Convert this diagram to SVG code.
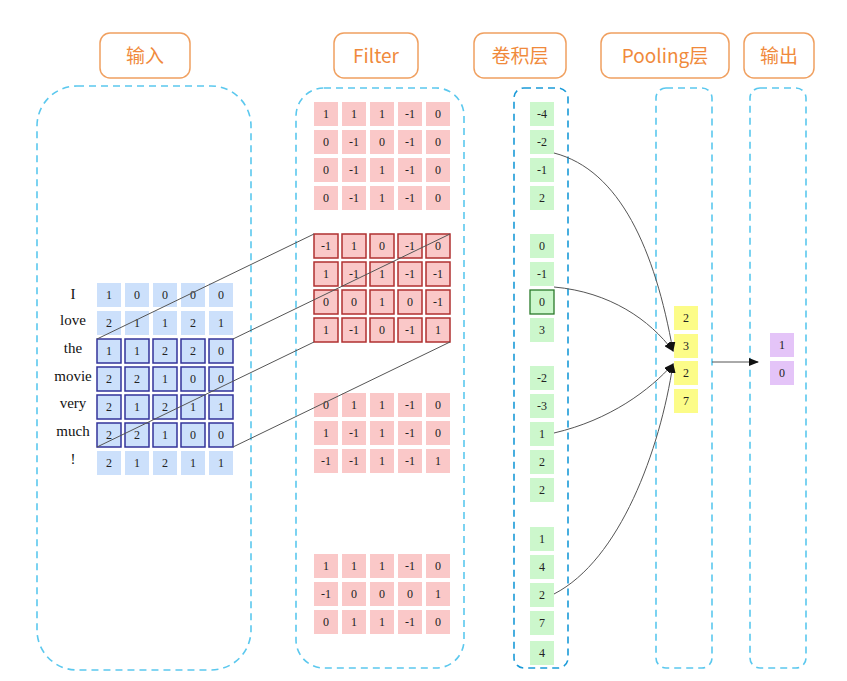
<svg xmlns="http://www.w3.org/2000/svg" width="847" height="681" viewBox="0 0 847 681">
<style>
.t{fill:#fff;stroke:#f0a060;stroke-width:1.5}
.tt{font-family:"Noto Sans CJK SC","Noto Sans",sans-serif;font-size:19px;fill:#f08a3c;text-anchor:middle}
.p{fill:none;stroke:#5bc8ee;stroke-width:1.6;stroke-dasharray:7,5}
.n{font-family:"Liberation Serif",serif;font-size:12px;fill:#222;text-anchor:middle}
.w{font-family:"Liberation Serif",serif;font-size:15px;fill:#111;text-anchor:middle}
.b{fill:#cce0fb}.bb{fill:#cce0fb;stroke:#33339a;stroke-width:1.5}
.r{fill:#fac8c8}.rb{fill:#fac8c8;stroke:#b03030;stroke-width:1.5}
.g{fill:#ccf7cc}.gb{fill:#ccf7cc;stroke:#2a7a2a;stroke-width:1.3}
.y{fill:#fcfc88}.v{fill:#e4c4f8}
.c{fill:none;stroke:#555;stroke-width:1}
</style>
<defs><marker id="a" markerWidth="10" markerHeight="8" refX="9" refY="4" orient="auto" markerUnits="userSpaceOnUse"><path d="M0,0L10,4L0,8z" fill="#111"/></marker></defs>
<rect width="847" height="681" fill="#fff"/>
<g id="titles">
<rect class="t" x="100" y="33" width="90" height="45" rx="10"/><text class="tt" x="145" y="63">输入</text>
<rect class="t" x="334" y="33" width="84" height="45" rx="10"/><text class="tt" x="376" y="63">Filter</text>
<rect class="t" x="474" y="33" width="92" height="45" rx="10"/><text class="tt" x="520" y="63">卷积层</text>
<rect class="t" x="601" y="33" width="128" height="45" rx="10"/><text class="tt" x="665" y="63">Pooling层</text>
<rect class="t" x="744" y="33" width="70" height="45" rx="10"/><text class="tt" x="779" y="63">输出</text>
</g>
<g id="panels">
<rect class="p" x="37" y="86" width="214" height="584" rx="40"/>
<rect class="p" x="296" y="88" width="168" height="580" rx="28"/>
<rect class="p" x="514" y="88" width="54" height="580" rx="10" style="stroke:#1a9ad8"/>
<rect class="p" x="656" y="88" width="56" height="580" rx="10"/>
<rect class="p" x="750" y="88" width="56" height="580" rx="10"/>
</g>
<g id="input">
<g class="w"><text x="73" y="299">I</text><text x="73" y="325">love</text><text x="73" y="353">the</text><text x="73" y="381">movie</text><text x="73" y="408">very</text><text x="73" y="436">much</text><text x="73" y="464">!</text></g>
<g class="b"><rect x="97" y="283" width="24" height="24"/><rect x="125" y="283" width="24" height="24"/><rect x="153" y="283" width="24" height="24"/><rect x="181" y="283" width="24" height="24"/><rect x="209" y="283" width="24" height="24"/>
<rect x="97" y="311" width="24" height="24"/><rect x="125" y="311" width="24" height="24"/><rect x="153" y="311" width="24" height="24"/><rect x="181" y="311" width="24" height="24"/><rect x="209" y="311" width="24" height="24"/>
<rect x="97" y="451" width="24" height="24"/><rect x="125" y="451" width="24" height="24"/><rect x="153" y="451" width="24" height="24"/><rect x="181" y="451" width="24" height="24"/><rect x="209" y="451" width="24" height="24"/></g>
<g class="bb"><rect x="97" y="339" width="24" height="24"/><rect x="125" y="339" width="24" height="24"/><rect x="153" y="339" width="24" height="24"/><rect x="181" y="339" width="24" height="24"/><rect x="209" y="339" width="24" height="24"/>
<rect x="97" y="367" width="24" height="24"/><rect x="125" y="367" width="24" height="24"/><rect x="153" y="367" width="24" height="24"/><rect x="181" y="367" width="24" height="24"/><rect x="209" y="367" width="24" height="24"/>
<rect x="97" y="395" width="24" height="24"/><rect x="125" y="395" width="24" height="24"/><rect x="153" y="395" width="24" height="24"/><rect x="181" y="395" width="24" height="24"/><rect x="209" y="395" width="24" height="24"/>
<rect x="97" y="423" width="24" height="24"/><rect x="125" y="423" width="24" height="24"/><rect x="153" y="423" width="24" height="24"/><rect x="181" y="423" width="24" height="24"/><rect x="209" y="423" width="24" height="24"/></g>
<g class="n">
<text x="109" y="299">1</text><text x="137" y="299">0</text><text x="165" y="299">0</text><text x="193" y="299">0</text><text x="221" y="299">0</text>
<text x="109" y="327">2</text><text x="137" y="327">1</text><text x="165" y="327">1</text><text x="193" y="327">2</text><text x="221" y="327">1</text>
<text x="109" y="355">1</text><text x="137" y="355">1</text><text x="165" y="355">2</text><text x="193" y="355">2</text><text x="221" y="355">0</text>
<text x="109" y="383">2</text><text x="137" y="383">2</text><text x="165" y="383">1</text><text x="193" y="383">0</text><text x="221" y="383">0</text>
<text x="109" y="411">2</text><text x="137" y="411">1</text><text x="165" y="411">2</text><text x="193" y="411">1</text><text x="221" y="411">1</text>
<text x="109" y="439">2</text><text x="137" y="439">2</text><text x="165" y="439">1</text><text x="193" y="439">0</text><text x="221" y="439">0</text>
<text x="109" y="467">2</text><text x="137" y="467">1</text><text x="165" y="467">2</text><text x="193" y="467">1</text><text x="221" y="467">1</text>
</g>
</g>
<g id="filter">
<g class="r">
<rect x="314" y="102" width="24" height="24"/><rect x="342" y="102" width="24" height="24"/><rect x="370" y="102" width="24" height="24"/><rect x="398" y="102" width="24" height="24"/><rect x="426" y="102" width="24" height="24"/>
<rect x="314" y="130" width="24" height="24"/><rect x="342" y="130" width="24" height="24"/><rect x="370" y="130" width="24" height="24"/><rect x="398" y="130" width="24" height="24"/><rect x="426" y="130" width="24" height="24"/>
<rect x="314" y="158" width="24" height="24"/><rect x="342" y="158" width="24" height="24"/><rect x="370" y="158" width="24" height="24"/><rect x="398" y="158" width="24" height="24"/><rect x="426" y="158" width="24" height="24"/>
<rect x="314" y="186" width="24" height="24"/><rect x="342" y="186" width="24" height="24"/><rect x="370" y="186" width="24" height="24"/><rect x="398" y="186" width="24" height="24"/><rect x="426" y="186" width="24" height="24"/>
<rect x="314" y="393" width="24" height="24"/><rect x="342" y="393" width="24" height="24"/><rect x="370" y="393" width="24" height="24"/><rect x="398" y="393" width="24" height="24"/><rect x="426" y="393" width="24" height="24"/>
<rect x="314" y="421" width="24" height="24"/><rect x="342" y="421" width="24" height="24"/><rect x="370" y="421" width="24" height="24"/><rect x="398" y="421" width="24" height="24"/><rect x="426" y="421" width="24" height="24"/>
<rect x="314" y="449" width="24" height="24"/><rect x="342" y="449" width="24" height="24"/><rect x="370" y="449" width="24" height="24"/><rect x="398" y="449" width="24" height="24"/><rect x="426" y="449" width="24" height="24"/>
<rect x="314" y="554" width="24" height="24"/><rect x="342" y="554" width="24" height="24"/><rect x="370" y="554" width="24" height="24"/><rect x="398" y="554" width="24" height="24"/><rect x="426" y="554" width="24" height="24"/>
<rect x="314" y="582" width="24" height="24"/><rect x="342" y="582" width="24" height="24"/><rect x="370" y="582" width="24" height="24"/><rect x="398" y="582" width="24" height="24"/><rect x="426" y="582" width="24" height="24"/>
<rect x="314" y="610" width="24" height="24"/><rect x="342" y="610" width="24" height="24"/><rect x="370" y="610" width="24" height="24"/><rect x="398" y="610" width="24" height="24"/><rect x="426" y="610" width="24" height="24"/>
</g>
<g class="rb">
<rect x="314" y="234" width="24" height="24"/><rect x="342" y="234" width="24" height="24"/><rect x="370" y="234" width="24" height="24"/><rect x="398" y="234" width="24" height="24"/><rect x="426" y="234" width="24" height="24"/>
<rect x="314" y="262" width="24" height="24"/><rect x="342" y="262" width="24" height="24"/><rect x="370" y="262" width="24" height="24"/><rect x="398" y="262" width="24" height="24"/><rect x="426" y="262" width="24" height="24"/>
<rect x="314" y="290" width="24" height="24"/><rect x="342" y="290" width="24" height="24"/><rect x="370" y="290" width="24" height="24"/><rect x="398" y="290" width="24" height="24"/><rect x="426" y="290" width="24" height="24"/>
<rect x="314" y="318" width="24" height="24"/><rect x="342" y="318" width="24" height="24"/><rect x="370" y="318" width="24" height="24"/><rect x="398" y="318" width="24" height="24"/><rect x="426" y="318" width="24" height="24"/>
</g>
<g class="n">
<text x="326" y="118">1</text><text x="354" y="118">1</text><text x="382" y="118">1</text><text x="410" y="118">-1</text><text x="438" y="118">0</text>
<text x="326" y="146">0</text><text x="354" y="146">-1</text><text x="382" y="146">0</text><text x="410" y="146">-1</text><text x="438" y="146">0</text>
<text x="326" y="174">0</text><text x="354" y="174">-1</text><text x="382" y="174">1</text><text x="410" y="174">-1</text><text x="438" y="174">0</text>
<text x="326" y="202">0</text><text x="354" y="202">-1</text><text x="382" y="202">1</text><text x="410" y="202">-1</text><text x="438" y="202">0</text>
<text x="326" y="250">-1</text><text x="354" y="250">1</text><text x="382" y="250">0</text><text x="410" y="250">-1</text><text x="438" y="250">0</text>
<text x="326" y="278">1</text><text x="354" y="278">-1</text><text x="382" y="278">1</text><text x="410" y="278">-1</text><text x="438" y="278">-1</text>
<text x="326" y="306">0</text><text x="354" y="306">0</text><text x="382" y="306">1</text><text x="410" y="306">0</text><text x="438" y="306">-1</text>
<text x="326" y="334">1</text><text x="354" y="334">-1</text><text x="382" y="334">0</text><text x="410" y="334">-1</text><text x="438" y="334">1</text>
<text x="326" y="409">0</text><text x="354" y="409">1</text><text x="382" y="409">1</text><text x="410" y="409">-1</text><text x="438" y="409">0</text>
<text x="326" y="437">1</text><text x="354" y="437">-1</text><text x="382" y="437">1</text><text x="410" y="437">-1</text><text x="438" y="437">0</text>
<text x="326" y="465">-1</text><text x="354" y="465">-1</text><text x="382" y="465">1</text><text x="410" y="465">-1</text><text x="438" y="465">1</text>
<text x="326" y="570">1</text><text x="354" y="570">1</text><text x="382" y="570">1</text><text x="410" y="570">-1</text><text x="438" y="570">0</text>
<text x="326" y="598">-1</text><text x="354" y="598">0</text><text x="382" y="598">0</text><text x="410" y="598">0</text><text x="438" y="598">1</text>
<text x="326" y="626">0</text><text x="354" y="626">1</text><text x="382" y="626">1</text><text x="410" y="626">-1</text><text x="438" y="626">0</text>
</g>
</g>
<g id="conv">
<g class="g">
<rect x="530" y="102" width="24" height="24"/><rect x="530" y="130" width="24" height="24"/><rect x="530" y="158" width="24" height="24"/><rect x="530" y="186" width="24" height="24"/>
<rect x="530" y="234" width="24" height="24"/><rect x="530" y="262" width="24" height="24"/><rect x="530" y="318" width="24" height="24"/>
<rect x="530" y="366" width="24" height="24"/><rect x="530" y="394" width="24" height="24"/><rect x="530" y="422" width="24" height="24"/><rect x="530" y="450" width="24" height="24"/><rect x="530" y="478" width="24" height="24"/>
<rect x="530" y="527" width="24" height="24"/><rect x="530" y="555" width="24" height="24"/><rect x="530" y="583" width="24" height="24"/><rect x="530" y="611" width="24" height="24"/><rect x="530" y="641" width="24" height="24"/>
</g>
<rect class="gb" x="530" y="290" width="24" height="24"/>
<g class="n">
<text x="542" y="118">-4</text><text x="542" y="146">-2</text><text x="542" y="174">-1</text><text x="542" y="202">2</text>
<text x="542" y="250">0</text><text x="542" y="278">-1</text><text x="542" y="306">0</text><text x="542" y="334">3</text>
<text x="542" y="382">-2</text><text x="542" y="410">-3</text><text x="542" y="438">1</text><text x="542" y="466">2</text><text x="542" y="494">2</text>
<text x="542" y="543">1</text><text x="542" y="571">4</text><text x="542" y="599">2</text><text x="542" y="627">7</text><text x="542" y="657">4</text>
</g>
</g>
<g id="pooling">
<g class="y"><rect x="674" y="306" width="24" height="24"/><rect x="674" y="334" width="24" height="24"/><rect x="674" y="361" width="24" height="24"/><rect x="674" y="389" width="24" height="24"/></g>
<g class="n"><text x="686" y="322">2</text><text x="686" y="350">3</text><text x="686" y="377">2</text><text x="686" y="405">7</text></g>
</g>
<g id="output">
<g class="v"><rect x="770" y="333" width="24" height="24"/><rect x="770" y="361" width="24" height="24"/></g>
<g class="n"><text x="782" y="349">1</text><text x="782" y="377">0</text></g>
</g>
<g id="connectors">
<line class="c" x1="97" y1="339" x2="314" y2="234"/>
<line class="c" x1="233" y1="339" x2="450" y2="234"/>
<line class="c" x1="97" y1="447" x2="314" y2="342"/>
<line class="c" x1="233" y1="447" x2="450" y2="342"/>
<path class="c" d="M554,153 C620,170 655,250 673,351" marker-end="url(#a)"/>
<path class="c" d="M554,287 C610,292 650,320 673,351" marker-end="url(#a)"/>
<path class="c" d="M554,433 C610,420 650,390 673,364" marker-end="url(#a)"/>
<path class="c" d="M554,594 C620,560 660,450 673,364" marker-end="url(#a)"/>
<line class="c" x1="712" y1="362" x2="758" y2="362" marker-end="url(#a)"/>
</g>
</svg>
